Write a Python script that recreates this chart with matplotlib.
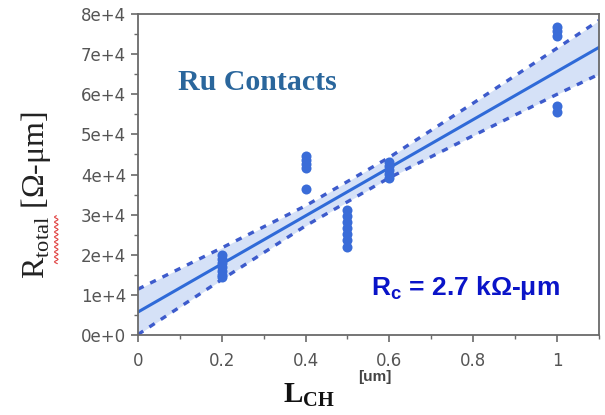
import numpy as np
import matplotlib.pyplot as plt
from matplotlib.ticker import FuncFormatter, MultipleLocator

plt.rcParams['mathtext.fontset'] = 'custom'
plt.rcParams['mathtext.rm'] = 'Liberation Serif'
plt.rcParams['mathtext.bf'] = 'Liberation Serif:bold'

# measured channel lengths and total resistances
x_02 = [0.2] * 7
y_02 = [2.0e4, 1.9e4, 1.8e4, 1.7e4, 1.6e4, 1.5e4, 1.45e4]
x_04 = [0.4] * 5
y_04 = [4.47e4, 4.37e4, 4.27e4, 4.15e4, 3.63e4]
x_05 = [0.5] * 7
y_05 = [3.12e4, 2.97e4, 2.82e4, 2.67e4, 2.52e4, 2.37e4, 2.2e4]
x_06 = [0.6] * 5
y_06 = [4.32e4, 4.22e4, 4.12e4, 4.02e4, 3.92e4]
x_10 = [1.0] * 5
y_10 = [7.68e4, 7.57e4, 7.45e4, 5.72e4, 5.56e4]

# fit line and its band
band_x = [0.0, 0.2, 0.4, 0.6, 0.8, 1.0, 1.1]
fit_y = [5.7e3, 1.77e4, 2.97e4, 4.17e4, 5.37e4, 6.57e4, 7.17e4]
band_hi = [1.14e4, 2.17e4, 3.22e4, 4.43e4, 5.78e4, 7.15e4, 7.84e4]
band_lo = [0.1e3, 1.38e4, 2.72e4, 3.92e4, 4.97e4, 6.0e4, 6.5e4]

fig = plt.figure(figsize=(6.05, 4.15), dpi=100)
ax = fig.add_axes([0.228, 0.193, 0.762, 0.773])

ax.fill_between(band_x, band_lo, band_hi, color='#d5e1f7', lw=0)
ax.plot(band_x, band_hi, color='#3d5bcc', lw=2.4, ls=(0, (1.9, 2.2)))
ax.plot(band_x, band_lo, color='#3d5bcc', lw=2.4, ls=(0, (1.9, 2.2)))
ax.plot(band_x, fit_y, color='#2f6ad8', lw=2.2)

xs = x_02 + x_04 + x_05 + x_06 + x_10
ys = y_02 + y_04 + y_05 + y_06 + y_10
ax.scatter(xs, ys, s=52, color='#3a6cd8', zorder=3, lw=0)

ax.set_xlim(0, 1.1)
ax.set_ylim(0, 8e4)
ax.xaxis.set_major_locator(MultipleLocator(0.2))
ax.xaxis.set_minor_locator(MultipleLocator(0.1))
ax.yaxis.set_major_locator(MultipleLocator(1e4))
ax.yaxis.set_minor_locator(MultipleLocator(5e3))
ax.xaxis.set_major_formatter(FuncFormatter(lambda v, p: '%g' % round(v, 2)))
ax.yaxis.set_major_formatter(FuncFormatter(lambda v, p: '%de+%d' % (v / 1e4, 4 if v else 0)))

for s in ax.spines.values():
    s.set_color('#6a6a6a')
    s.set_linewidth(1.3)
ax.tick_params(which='major', length=5, width=1.2, color='#6a6a6a',
               labelcolor='#555555', labelsize=12)
ax.tick_params(axis='x', which='major', pad=7)
ax.tick_params(which='minor', length=3, width=1.0, color='#6a6a6a')

ax.text(0.087, 0.763, 'Ru Contacts', transform=ax.transAxes, color='#2a669c',
        fontsize=21.5, fontweight='bold', family='Liberation Serif', va='baseline')
ax.text(0.506, 0.125, r'R$_\mathregular{c}$ = 2.7 kΩ-μm', transform=ax.transAxes,
        color='#0a14c8', fontsize=19, fontweight='bold', family='Liberation Sans',
        va='baseline')

fig.text(0.06, 0.53, r'R$_{\rm total}$ [Ω-μm]', rotation=90, ha='center', va='center',
         fontsize=23, family='Liberation Serif', color='#222222')
# spell-check squiggle under "total"
wy = np.linspace(0.365, 0.48, 60)
wx = 0.093 + 0.003 * np.sin(wy * 2 * np.pi / 0.012)
fig.add_artist(plt.Line2D(wx, wy, color='#e04040', lw=0.8, transform=fig.transFigure))

fig.text(0.468, 0.03, r'$\mathbf{L}_{\mathbf{CH}}$', ha='left', va='baseline',
         fontsize=21, color='#111111')
fig.text(0.592, 0.092, '[um]', ha='left', va='center', fontsize=11,
         color='#444444', family='Liberation Sans', fontweight='bold')

fig.savefig('out.png', dpi=100)
